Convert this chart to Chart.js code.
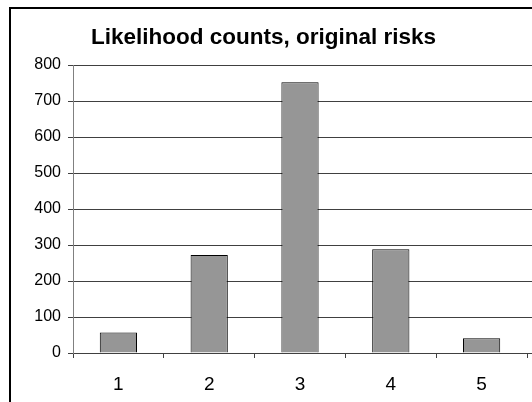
<!DOCTYPE html>
<html>
<head>
<meta charset="utf-8">
<script src="https://cdn.jsdelivr.net/npm/chart.js@4/dist/chart.umd.min.js"></script>
<style>
  html, body { margin: 0; padding: 0; background: #fff; overflow: hidden; }
  #wrap { width: 532px; height: 402px; position: relative; }
</style>
</head>
<body>
<div id="wrap"><canvas id="c" width="532" height="402"></canvas></div>
<script>
// Likelihood score categories and how many risks fell in each
const categories = ['1', '2', '3', '4', '5'];
const counts = [57, 272, 752, 288, 41];
const yTicks = [0, 100, 200, 300, 400, 500, 600, 700, 800];

const FONT = 'Arial, "Liberation Sans", Helvetica, sans-serif';

// Frame around the whole chart object, and horizontal gridlines carried to the right edge
const framePlugin = {
  id: 'frame',
  afterDraw(chart) {
    const ctx = chart.ctx;
    const y = chart.scales.y;
    const area = chart.chartArea;
    ctx.save();
    ctx.strokeStyle = '#404040';
    ctx.lineWidth = 1;
    y.ticks.forEach(t => {
      const py = Math.round(y.getPixelForValue(t.value)) + 0.5;
      ctx.beginPath();
      ctx.moveTo(area.right, py);
      ctx.lineTo(chart.width, py);
      ctx.stroke();
    });
    ctx.strokeStyle = '#000';
    ctx.lineWidth = 2;
    ctx.strokeRect(10, 8, chart.width + 20, chart.height + 20);
    ctx.restore();
  }
};

new Chart(document.getElementById('c'), {
  type: 'bar',
  data: {
    labels: categories,
    datasets: [{
      data: counts,
      backgroundColor: '#969696',
      borderColor: '#000000',
      borderWidth: 1,
      categoryPercentage: 1.0,
      barPercentage: 0.41
    }]
  },
  options: {
    responsive: false,
    animation: false,
    devicePixelRatio: 1,
    layout: { padding: { left: 0, right: 5, top: 0, bottom: 0 } },
    plugins: {
      legend: { display: false },
      tooltip: { enabled: false },
      title: {
        display: true,
        text: 'Likelihood counts, original risks',
        color: '#000',
        font: { family: FONT, size: 22.5, weight: 'bold', lineHeight: 1.2 },
        padding: { top: 24, bottom: 14 }
      }
    },
    scales: {
      x: {
        grid: {
          display: true,
          drawOnChartArea: false,
          drawTicks: true,
          tickLength: 5,
          tickColor: '#404040',
          offset: true
        },
        border: { display: true, color: '#404040' },
        ticks: {
          color: '#000',
          font: { family: FONT, size: 19 },
          padding: 15
        },
        afterFit(scale) { scale.height = 49; }
      },
      y: {
        min: 0,
        max: 800,
        afterBuildTicks(scale) { scale.ticks = yTicks.map(v => ({ value: v })); },
        grid: {
          color: '#404040',
          drawTicks: true,
          tickLength: 5,
          tickColor: '#404040'
        },
        border: { display: true, color: '#808080' },
        ticks: {
          color: '#000',
          font: { family: FONT, size: 16 },
          padding: 7
        },
        afterFit(scale) { scale.width = 73; }
      }
    }
  },
  plugins: [framePlugin]
});
</script>
</body>
</html>
